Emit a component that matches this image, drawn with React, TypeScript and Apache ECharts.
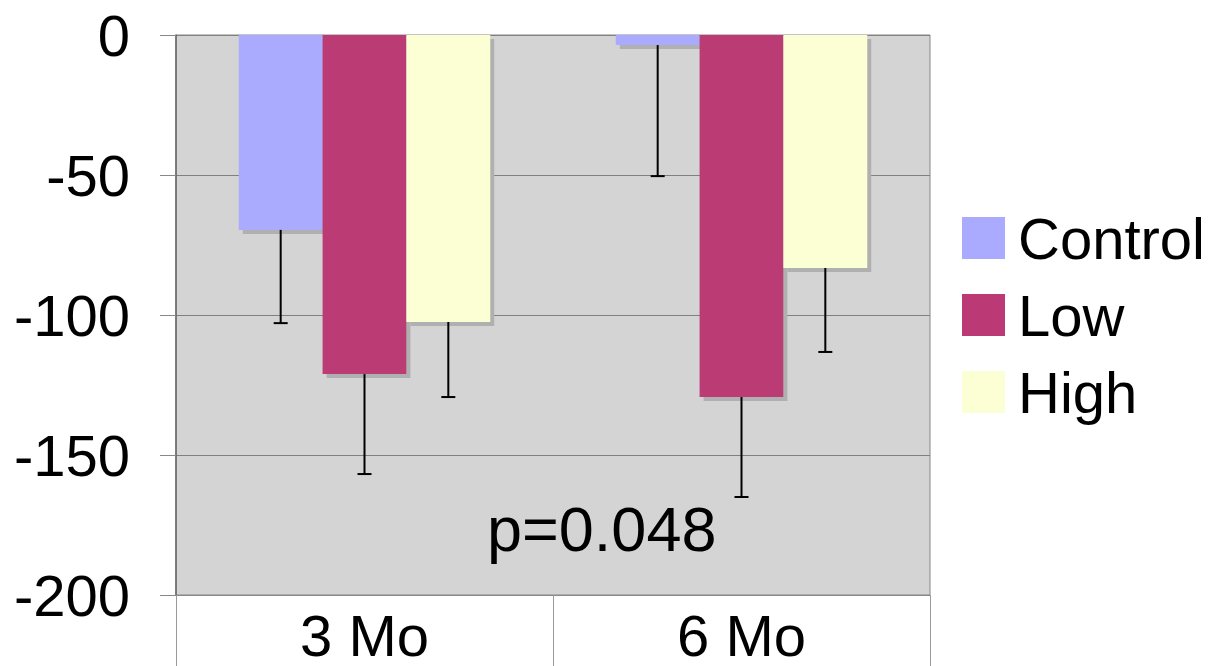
import React, { useEffect, useRef } from "react";
import * as echarts from "echarts";

const categories = ["3 Mo", "6 Mo"];
const seriesNames = ["Control", "Low", "High"];
const controlMeans = [-69.6, -3.6];
const lowMeans = [-121.1, -129.3];
const highMeans = [-102.5, -83.2];
const controlErr = [33.3, 46.8];
const lowErr = [35.7, 35.7];
const highErr = [26.8, 30.0];
const colors = ["#aaaaff", "#bb3a75", "#fbffd3"];
const yTicks = { min: -200, max: 0, interval: 50 };
const pLabel = "p=0.048";

const FONT = "'Liberation Sans', Arial, sans-serif";

export default function App() {
  const ref = useRef<HTMLDivElement>(null);
  useEffect(() => {
    if (!ref.current) return;
    const chart = echarts.init(ref.current, undefined, { renderer: "svg" });
    const means = [controlMeans, lowMeans, highMeans];
    const errs = [controlErr, lowErr, highErr];
    const gapRatio = 0.333;

    const barSeries = seriesNames.map((name, k) => ({
      name,
      type: "bar",
      data: means[k],
      barGap: "0%",
      barCategoryGap: "33.3%",
      itemStyle: {
        color: colors[k],
        shadowColor: "#b0b0b0",
        shadowBlur: 0,
        shadowOffsetX: 4,
        shadowOffsetY: 4,
      },
      z: 2,
    }));

    const errSeries = seriesNames.map((name, k) => ({
      name: name + "-err",
      type: "custom",
      z: 5,
      data: categories.map((_, i) => [i, means[k][i], means[k][i] - errs[k][i]]),
      encode: { x: 0, y: [1, 2] },
      renderItem: (params: any, api: any) => {
        const cat = api.value(0);
        const p0 = api.coord([cat, api.value(1)]);
        const p1 = api.coord([cat, api.value(2)]);
        const bandW = api.size([1, 0])[0];
        const barW = (bandW * (1 - gapRatio)) / 3;
        const x = p0[0] + (k - 1) * barW;
        return {
          type: "group",
          children: [
            {
              type: "line",
              shape: { x1: x, y1: p0[1], x2: x, y2: p1[1] },
              style: { stroke: "#000", lineWidth: 2 },
            },
            {
              type: "line",
              shape: { x1: x - 7, y1: p1[1], x2: x + 7, y2: p1[1] },
              style: { stroke: "#000", lineWidth: 2 },
            },
          ],
        };
      },
    }));

    chart.setOption({
      animation: false,
      textStyle: { fontFamily: FONT },
      grid: {
        left: 176,
        right: 281,
        top: 35,
        bottom: 71,
        show: true,
        backgroundColor: "#d4d4d4",
        borderColor: "#888888",
        borderWidth: 1,
      },
      legend: {
        data: seriesNames,
        orient: "vertical",
        left: 962,
        top: 209,
        padding: 0,
        itemWidth: 43,
        itemHeight: 42,
        itemGap: 19,
        icon: "rect",
        textStyle: { fontSize: 58, color: "#000", fontFamily: FONT, padding: [0, 0, 0, 8] },
      },
      xAxis: {
        type: "category",
        data: categories,
        axisLine: { show: true, onZero: false, lineStyle: { color: "#888888", width: 1 } },
        axisTick: { show: true, alignWithLabel: false, length: 71, lineStyle: { color: "#999999" } },
        axisLabel: { fontSize: 58, color: "#000", margin: 11, fontFamily: FONT },
        splitLine: { show: false },
      },
      yAxis: {
        type: "value",
        min: yTicks.min,
        max: yTicks.max,
        interval: yTicks.interval,
        axisLine: { show: true, lineStyle: { color: "#666666", width: 1.5 } },
        axisTick: { show: true, length: 16, lineStyle: { color: "#888888" } },
        axisLabel: { fontSize: 58, color: "#000", margin: 46, fontFamily: FONT },
        splitLine: { show: true, lineStyle: { color: "#808080", width: 1 } },
      },
      graphic: [
        {
          type: "text",
          left: 487,
          top: 497,
          z: 10,
          style: { text: pLabel, fontSize: 63, fill: "#000", fontFamily: FONT },
        },
      ],
      series: [...barSeries, ...errSeries],
    });
    return () => chart.dispose();
  }, []);
  return (
    <div
      ref={ref}
      style={{ position: "fixed", left: 0, top: 0, width: 1211, height: 666, background: "#fff" }}
    />
  );
}
